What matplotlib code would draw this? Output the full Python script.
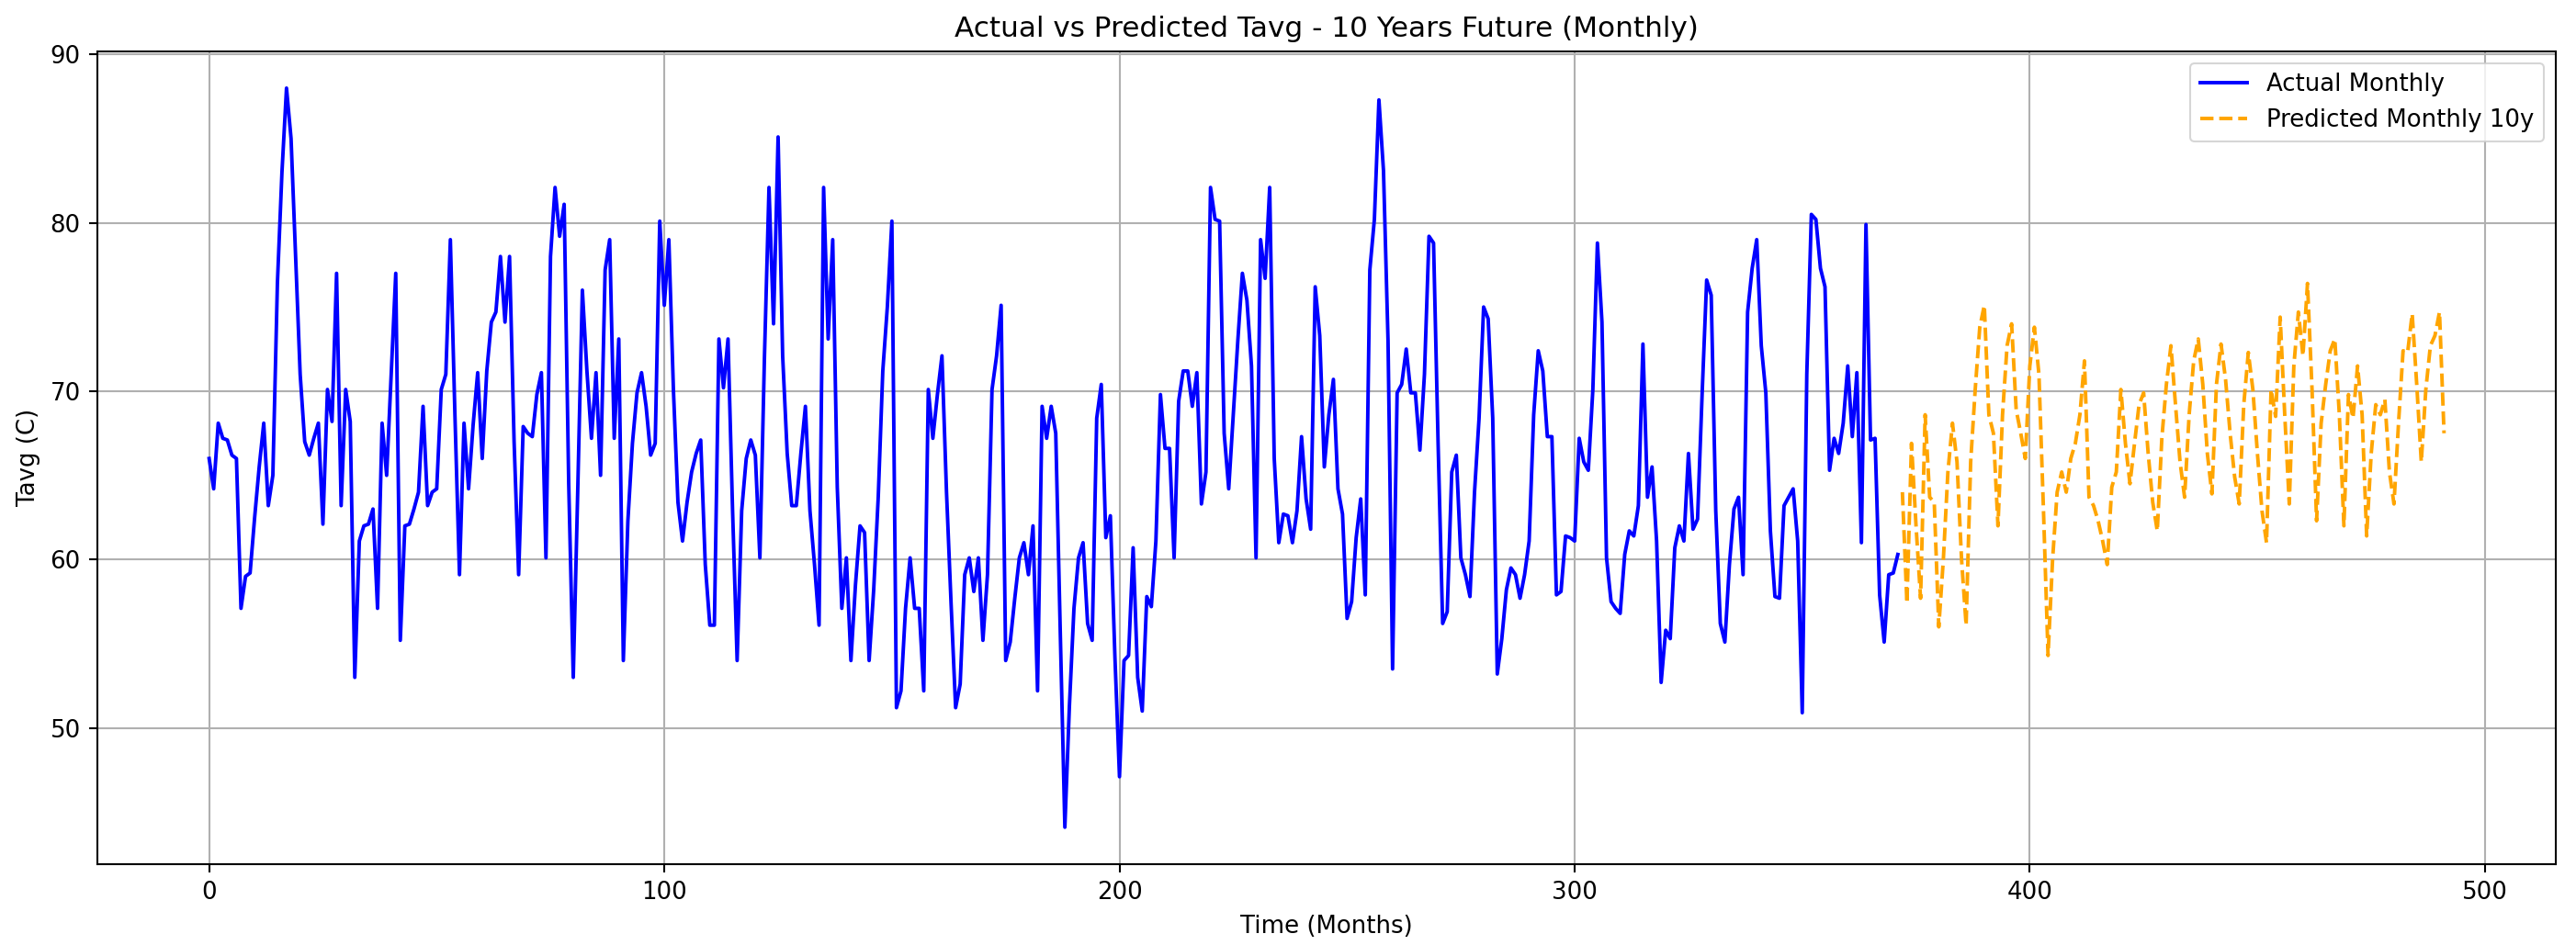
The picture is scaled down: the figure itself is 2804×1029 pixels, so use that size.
import matplotlib
matplotlib.use("Agg")
import matplotlib.pyplot as plt
import numpy as np

actual = [
    66.0, 64.2, 68.1, 67.2, 67.1, 66.2, 66.0, 57.1, 59.0, 59.2,
    62.5, 65.5, 68.1, 63.2, 65.0, 76.4, 83.0, 88.0, 85.0, 78.0,
    71.0, 67.0, 66.2, 67.2, 68.1, 62.1, 70.1, 68.2, 77.0, 63.2,
    70.1, 68.2, 53.0, 61.1, 62.0, 62.1, 63.0, 57.1, 68.1, 65.0,
    71.0, 77.0, 55.2, 62.0, 62.1, 63.0, 64.0, 69.1, 63.2, 64.0,
    64.2, 70.1, 71.0, 79.0, 68.6, 59.1, 68.1, 64.2, 68.0, 71.1,
    66.0, 71.2, 74.1, 74.7, 78.0, 74.1, 78.0, 67.0, 59.1, 67.9,
    67.5, 67.3, 69.8, 71.1, 60.1, 78.0, 82.1, 79.2, 81.1, 64.5,
    53.0, 64.3, 76.0, 71.2, 67.2, 71.1, 65.0, 77.2, 79.0, 67.2,
    73.1, 54.0, 62.3, 66.9, 69.9, 71.1, 69.1, 66.2, 66.9, 80.1,
    75.1, 79.0, 70.1, 63.4, 61.1, 63.4, 65.2, 66.3, 67.1, 59.7,
    56.1, 56.1, 73.1, 70.2, 73.1, 62.9, 54.0, 62.9, 66.0, 67.1,
    66.2, 60.1, 72.0, 82.1, 74.0, 85.1, 72.1, 66.3, 63.2, 63.2,
    66.3, 69.1, 62.9, 59.7, 56.1, 82.1, 73.1, 79.0, 64.3, 57.1,
    60.1, 54.0, 58.5, 62.0, 61.6, 54.0, 58.2, 63.7, 71.2, 75.0,
    80.1, 51.2, 52.2, 57.1, 60.1, 57.1, 57.1, 52.2, 70.1, 67.2,
    69.8, 72.1, 64.0, 57.4, 51.2, 52.6, 59.1, 60.1, 58.1, 60.1,
    55.2, 59.1, 70.1, 72.1, 75.1, 54.0, 55.1, 57.7, 60.1, 61.0,
    59.1, 62.0, 52.2, 69.1, 67.2, 69.1, 67.5, 55.6, 44.1, 51.3,
    57.1, 60.1, 61.0, 56.2, 55.2, 68.4, 70.4, 61.3, 62.6, 54.2,
    47.1, 54.0, 54.3, 60.7, 53.0, 51.0, 57.8, 57.2, 61.1, 69.8,
    66.6, 66.6, 60.1, 69.4, 71.2, 71.2, 69.1, 71.1, 63.3, 65.2,
    82.1, 80.2, 80.1, 67.5, 64.2, 68.6, 73.0, 77.0, 75.4, 71.5,
    60.1, 79.0, 76.7, 82.1, 66.0, 61.0, 62.7, 62.6, 61.0, 62.9,
    67.3, 63.6, 61.8, 76.2, 73.3, 65.5, 68.6, 70.7, 64.2, 62.7,
    56.5, 57.5, 61.3, 63.6, 57.9, 77.2, 80.2, 87.3, 83.1, 73.0,
    53.5, 69.9, 70.4, 72.5, 69.9, 69.9, 66.5, 71.0, 79.2, 78.8,
    66.9, 56.2, 56.9, 65.2, 66.2, 60.1, 59.1, 57.8, 64.0, 68.4,
    75.0, 74.3, 68.4, 53.2, 55.3, 58.2, 59.5, 59.1, 57.7, 59.1,
    61.1, 68.6, 72.4, 71.2, 67.3, 67.3, 57.9, 58.1, 61.4, 61.3,
    61.1, 67.2, 65.8, 65.3, 70.1, 78.8, 74.1, 60.1, 57.5, 57.1,
    56.8, 60.3, 61.7, 61.4, 63.2, 72.8, 63.7, 65.5, 61.1, 52.7,
    55.8, 55.3, 60.7, 62.0, 61.1, 66.3, 61.8, 62.4, 69.8, 76.6,
    75.7, 62.9, 56.2, 55.1, 59.7, 63.0, 63.7, 59.1, 74.7, 77.3,
    79.0, 72.7, 69.9, 61.7, 57.8, 57.7, 63.2, 63.7, 64.2, 61.1,
    50.9, 71.0, 80.5, 80.2, 77.3, 76.2, 65.3, 67.2, 66.3, 68.1,
    71.5, 67.3, 71.1, 61.0, 79.9, 67.1, 67.2, 57.9, 55.1, 59.1,
    59.2, 60.3,
]

predicted = [
    64.0, 57.4, 66.9, 62.0, 57.7, 68.6, 63.7, 63.4, 56.0, 60.0,
    65.2, 68.1, 65.8, 60.0, 56.1, 65.8, 70.1, 73.8, 75.1, 68.6,
    67.5, 62.0, 68.6, 72.7, 74.0, 68.9, 67.5, 66.0, 71.5, 73.8,
    71.0, 62.9, 54.3, 60.0, 64.0, 65.2, 64.0, 66.0, 66.9, 68.6,
    71.8, 63.7, 63.2, 62.3, 61.1, 59.7, 64.3, 65.2, 70.1, 66.9,
    64.5, 66.9, 69.2, 69.9, 66.3, 63.4, 61.7, 67.2, 70.4, 72.7,
    69.2, 65.8, 63.7, 68.6, 71.8, 73.1, 70.4, 66.3, 63.9, 70.4,
    72.8, 70.7, 67.5, 64.9, 63.3, 69.2, 72.3, 70.1, 66.3, 62.9,
    61.0, 70.1, 68.5, 74.4, 68.6, 63.3, 71.5, 74.7, 72.1, 76.4,
    70.1, 62.3, 68.1, 70.4, 72.4, 73.1, 68.6, 62.0, 69.8, 68.4,
    71.5, 68.6, 61.4, 66.3, 69.2, 68.6, 69.5, 65.2, 63.3, 68.1,
    72.4, 72.3, 74.6, 70.4, 65.8, 70.1, 72.7, 73.3, 74.7, 67.5,
]

title = "Actual vs Predicted Tavg - 10 Years Future (Monthly)"
xlabel = "Time (Months)"
ylabel = "Tavg (C)"
label_actual = "Actual Monthly"
label_pred = "Predicted Monthly 10y"

s = 1.87
W, H = 2804, 1029
fig = plt.figure(figsize=(W / 100, H / 100), dpi=100)
left, right = 106 / W, 2782 / W
top, bottom = 1 - 55.7 / H, 1 - 941 / H
ax = fig.add_axes([left, bottom, right - left, top - bottom])

x_act = np.arange(len(actual))
x_pred = np.arange(len(actual), len(actual) + len(predicted))

ax.plot(x_act, actual, color="blue", lw=1.5 * s, label=label_actual)
ax.plot(x_pred, predicted, color="orange", lw=1.5 * s, ls="--",
        dashes=(3.7, 1.6), label=label_pred)

ax.set_title(title, fontsize=12 * s, pad=6 * s)
ax.set_xlabel(xlabel, fontsize=10 * s, labelpad=4 * s)
ax.set_ylabel(ylabel, fontsize=10 * s, labelpad=4 * s)
ax.tick_params(labelsize=10 * s, length=3.5 * s, width=0.8 * s, pad=3.5 * s)
for sp in ax.spines.values():
    sp.set_linewidth(0.8 * s)
ax.grid(True, color="#b0b0b0", lw=0.8 * s)
leg = ax.legend(loc="upper right", fontsize=10 * s, framealpha=0.8,
                borderpad=0.4, handlelength=2.0)
leg.get_frame().set_linewidth(0.8 * s)

fig.savefig("out.png", dpi=100)
